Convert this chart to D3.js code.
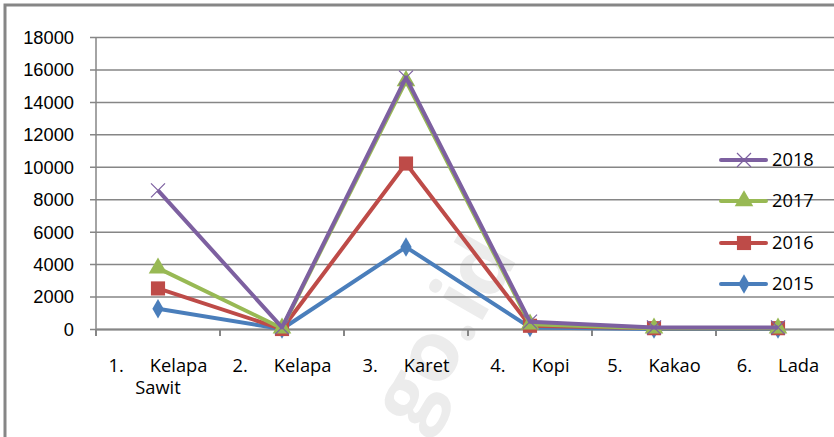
<!DOCTYPE html>
<html>
<head>
<meta charset="utf-8">
<script src="https://cdn.jsdelivr.net/npm/d3@7"></script>
<style>
  body { margin: 0; background: #fff; }
  svg { display: block; font-family: "Open Sans", "Noto Sans", sans-serif; }
</style>
</head>
<body>
<svg id="chart" width="834" height="437"></svg>
<script>
// data
var nums = ["1.", "2.", "3.", "4.", "5.", "6."];
var names = ["Kelapa", "Kelapa", "Karet", "Kopi", "Kakao", "Lada"];
var secondLine = ["Sawit", "", "", "", "", ""];
var years = ["2015", "2016", "2017", "2018"];
var v2015 = [1250, 0, 5050, 100, 0, 0];
var v2016 = [2500, 0, 10200, 200, 50, 50];
var v2017 = [3750, 50, 15300, 300, 50, 50];
var v2018 = [8550, 100, 15500, 450, 100, 100];
var yTicks = [0, 2000, 4000, 6000, 8000, 10000, 12000, 14000, 16000, 18000];

var colors = ["#4a7ebb", "#be4b48", "#98b954", "#7d60a0"];
var shapes = ["diamond", "square", "triangle", "cross"];
var series = [v2015, v2016, v2017, v2018];

var svg = d3.select("#chart");
var pLeft = 96, pRight = 840, pTop = 37, pBottom = 329;
var fs = 18.3;

var x = d3.scaleBand().domain(d3.range(nums.length)).range([pLeft, pRight]);
var y = d3.scaleLinear().domain([0, 18000]).range([pBottom, pTop]);

// outer border of chart area
svg.append("path")
  .attr("d", "M5,440 V5 H840")
  .attr("fill", "none")
  .attr("stroke", "#868686")
  .attr("stroke-width", 3);

// watermark
svg.append("text")
  .attr("transform", "translate(468,345) rotate(-60)")
  .attr("text-anchor", "middle")
  .attr("font-size", 84)
  .attr("font-weight", "bold")
  .attr("fill", "#ececec")
  .text("go.id");

// grid + y axis
var yAxis = d3.axisLeft(y).tickValues(yTicks).tickSize(-(pRight - pLeft)).tickPadding(22)
  .tickFormat(d3.format("d"));
var gy = svg.append("g").attr("transform", "translate(" + pLeft + ",0)").call(yAxis);
gy.select(".domain").remove();
gy.selectAll(".tick line").attr("stroke", "#868686").attr("stroke-width", 1.5).attr("x1", -6);
gy.selectAll(".tick text").attr("font-size", fs).attr("fill", "#000").attr("dy", "0.35em");
svg.append("line").attr("x1", pLeft).attr("x2", pLeft).attr("y1", pTop).attr("y2", pBottom)
  .attr("stroke", "#868686").attr("stroke-width", 1.5);

// x axis ticks at band boundaries
var xAxis = d3.axisBottom(x).tickSize(0).tickFormat("");
var gx = svg.append("g").attr("transform", "translate(0," + pBottom + ")").call(xAxis);
gx.select(".domain").attr("stroke", "#868686").attr("stroke-width", 2);
gx.selectAll(".tick").remove();
gx.selectAll(".bt").data(d3.range(nums.length)).enter().append("line")
  .attr("x1", function(d) { return x(d); }).attr("x2", function(d) { return x(d); })
  .attr("y1", 0).attr("y2", 7)
  .attr("stroke", "#868686").attr("stroke-width", 2);

// category labels
var cx = function(i) { return x(i) + x.bandwidth() / 2; };
var lab = svg.append("g").attr("font-size", fs).attr("fill", "#000");
nums.forEach(function(n, i) {
  var t = lab.append("text").attr("x", cx(i)).attr("y", 372).attr("text-anchor", "middle");
  t.append("tspan").text(n);
  t.append("tspan").attr("dx", 26).text(names[i]);
  if (secondLine[i]) {
    lab.append("text").attr("x", cx(i)).attr("y", 394).attr("text-anchor", "middle").text(secondLine[i]);
  }
});

function marker(g, shape, color, size) {
  if (shape === "cross") {
    var s = size / 2;
    g.append("path").attr("d", "M" + (-s) + "," + (-s) + "L" + s + "," + s + "M" + (-s) + "," + s + "L" + s + "," + (-s))
      .attr("stroke", color).attr("stroke-width", 1.2).attr("fill", "none");
  } else {
    var sym = { diamond: d3.symbolDiamond, square: d3.symbolSquare, triangle: d3.symbolTriangle }[shape];
    var area = { diamond: 110, square: 200, triangle: 150 }[shape];
    g.append("path").attr("d", d3.symbol().type(sym).size(area)()).attr("fill", color);
  }
}

var line = d3.line().x(function(d, i) { return cx(i); }).y(function(d) { return y(d); });

series.forEach(function(vals, si) {
  var g = svg.append("g");
  g.append("path").datum(vals).attr("d", line)
    .attr("fill", "none").attr("stroke", colors[si]).attr("stroke-width", 4)
    .attr("stroke-linejoin", "round");
  vals.forEach(function(v, i) {
    var m = g.append("g").attr("transform", "translate(" + cx(i) + "," + y(v) + ")");
    marker(m, shapes[si], colors[si], 14);
  });
});

// legend (reverse order)
var legY = [160, 201, 243, 284];
var leg = svg.append("g");
years.slice().reverse().forEach(function(yr, k) {
  var si = years.length - 1 - k;
  var row = leg.append("g").attr("transform", "translate(0," + legY[k] + ")");
  row.append("line").attr("x1", 721).attr("x2", 766).attr("y1", 0).attr("y2", 0)
    .attr("stroke", colors[si]).attr("stroke-width", 4).attr("stroke-linecap", "round");
  var m = row.append("g").attr("transform", "translate(744,0)");
  marker(m, shapes[si], colors[si], 14);
  row.append("text").attr("x", 772).attr("y", 0).attr("dy", "0.35em")
    .attr("font-size", fs).attr("fill", "#000").text(yr);
});
</script>
</body>
</html>
